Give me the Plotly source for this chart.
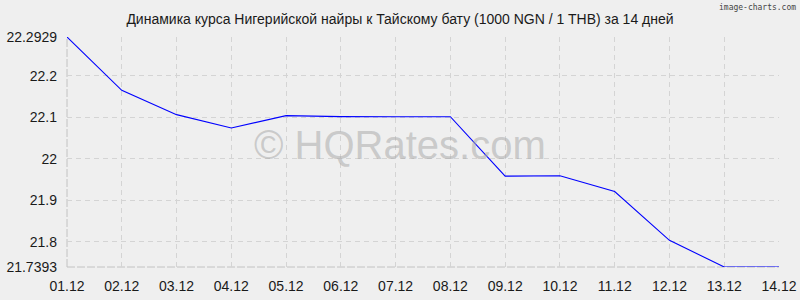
import plotly.graph_objects as go

dates = ["01.12", "02.12", "03.12", "04.12", "05.12", "06.12", "07.12",
         "08.12", "09.12", "10.12", "11.12", "12.12", "13.12", "14.12"]
rates = [22.2929, 22.1646, 22.1060, 22.0739, 22.1037, 22.1013, 22.1010,
         22.1010, 21.9580, 21.9590, 21.9208, 21.8036, 21.7393, 21.7393]
y_ticks = [21.7393, 21.8, 21.9, 22.0, 22.1, 22.2, 22.2929]
y_tick_text = ["21.7393", "21.8", "21.9", "22", "22.1", "22.2", "22.2929"]
title_text = "Динамика курса Нигерийской найры к Тайскому бату (1000 NGN / 1 THB) за 14 дней"

fig = go.Figure()
fig.add_trace(go.Scatter(
    x=dates, y=rates, mode="lines",
    line=dict(color="#0000ff", width=1.1),
    hoverinfo="x+y",
))

font_family = "Liberation Sans, Arial, sans-serif"
bg = "#efefef"
grid_dash = "5px,4px"

fig.update_layout(
    width=800, height=300,
    margin=dict(l=67, r=21, t=37, b=33, autoexpand=False),
    paper_bgcolor=bg, plot_bgcolor=bg,
    showlegend=False,
    font=dict(family=font_family, size=14, color="#1a1a1a"),
    title=dict(text=title_text, x=0.5, xanchor="center", y=0.935, yanchor="middle",
               font=dict(family=font_family, size=14, color="#1a1a1a")),
    xaxis=dict(
        type="category", range=[0, len(dates) - 1], automargin=False,
        showgrid=True, gridcolor="#d4d4d4", griddash=grid_dash, gridwidth=1,
        showline=False, zeroline=False,
        ticks="", ticklabelstandoff=9,
        tickfont=dict(size=14, color="#1a1a1a"),
        fixedrange=True,
    ),
    yaxis=dict(
        range=[y_ticks[0], y_ticks[-1]], automargin=False,
        tickvals=y_ticks, ticktext=y_tick_text,
        showgrid=True, gridcolor="#d4d4d4", griddash=grid_dash, gridwidth=1,
        showline=False, zeroline=False,
        ticks="", ticklabelstandoff=9,
        tickfont=dict(size=14, color="#1a1a1a"),
        fixedrange=True,
    ),
    annotations=[
        dict(text="© HQRates.com", xref="paper", yref="paper",
             x=0.468, y=0.53, xanchor="center", yanchor="middle",
             showarrow=False,
             font=dict(family=font_family, size=40, color="rgba(170,170,170,0.55)")),
        dict(text="image-charts.com", xref="paper", yref="paper",
             x=1.0 + 19 / 712, y=1 + 30 / 230, xanchor="right", yanchor="middle",
             showarrow=False,
             font=dict(family="DejaVu Sans Mono, monospace", size=8, color="#444444")),
    ],
)

# left axis and bottom axis slightly darker, denser dashed lines
fig.add_shape(type="line", xref="paper", yref="paper", x0=0, x1=0, y0=0, y1=1,
              line=dict(color="#c2c2c2", width=1, dash="8px,2px"), layer="below")
fig.add_shape(type="line", xref="paper", yref="paper", x0=0, x1=1, y0=0, y1=0,
              line=dict(color="#c2c2c2", width=1, dash="8px,2px"), layer="below")

fig.write_html("out.html")
